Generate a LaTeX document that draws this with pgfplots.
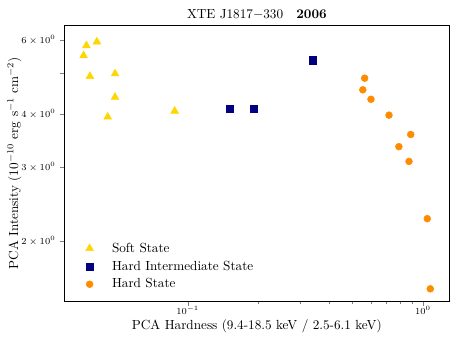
\documentclass[border=0pt]{standalone}
\usepackage{pgfplots}
\pgfplotsset{compat=1.18}
\definecolor{softc}{HTML}{FFD700}
\definecolor{himc}{HTML}{000080}
\definecolor{hardc}{HTML}{FF8C00}
\begin{document}
\begin{tikzpicture}
\begin{axis}[
  scale only axis,
  width=291pt, height=209pt,
  xmode=log, ymode=log,
  xmin=0.030, xmax=1.29,
  ymin=1.44, ymax=6.51,
  xtick={0.1,1},
  xticklabels={$10^{-1}$,$10^{0}$},
  ytick={2,3,4,5,6},
  yticklabels={$2\times10^{0}$,$3\times10^{0}$,$4\times10^{0}$,{},$6\times10^{0}$},
  minor ytick={},
  tick align=outside,
  xtick pos=left, ytick pos=left,
  major tick length=3.5pt, minor tick length=2pt,
  tick label style={font=\scriptsize},
  xticklabel style={yshift=3pt},
  yticklabel style={xshift=0pt},
  label style={font=\normalsize},
  title={XTE J1817$-$330\quad\textbf{2006}},
  title style={font=\normalsize, yshift=-5pt},
  xlabel={PCA Hardness (9.4-18.5 keV / 2.5-6.1 keV)},
  xlabel style={yshift=3pt},
  ylabel={PCA Intensity ($10^{-10}$ erg s$^{-1}$ cm$^{-2}$)},
  every axis y label/.style={at={(rel axis cs:0,0.5)}, xshift=-38pt, rotate=90, anchor=center},
  legend style={at={(0.03,0.03)}, anchor=south west, draw=none, fill=none,
    font=\normalsize, row sep=1pt, column sep=12pt, xshift=4pt, yshift=-2pt},
  legend cell align=left,
]
\addplot[only marks, mark=triangle*, mark size=3.4pt, color=softc] coordinates {
  (0.0371,5.82) (0.0411,5.94) (0.0361,5.51) (0.0384,4.92)
  (0.0491,4.99) (0.0491,4.39) (0.0457,3.94) (0.0880,4.07)
};
\addlegendentry{Soft State}
\addplot[only marks, mark=square*, mark size=2.7pt, color=himc] coordinates {
  (0.151,4.13) (0.191,4.13) (0.341,5.37)
};
\addlegendentry{Hard Intermediate State}
\addplot[only marks, mark=*, mark size=2.6pt, color=hardc] coordinates {
  (0.565,4.87) (0.555,4.57) (0.601,4.34) (0.717,3.98) (0.887,3.58)
  (0.790,3.35) (0.872,3.09) (1.043,2.26) (1.074,1.54)
};
\addlegendentry{Hard State}
\end{axis}
\pgfresetboundingbox
\path[use as bounding box] ([shift={(-49pt,-35pt)}]current axis.south west)
  rectangle ([shift={(10.6pt,19pt)}]current axis.north east);
\end{tikzpicture}
\end{document}
